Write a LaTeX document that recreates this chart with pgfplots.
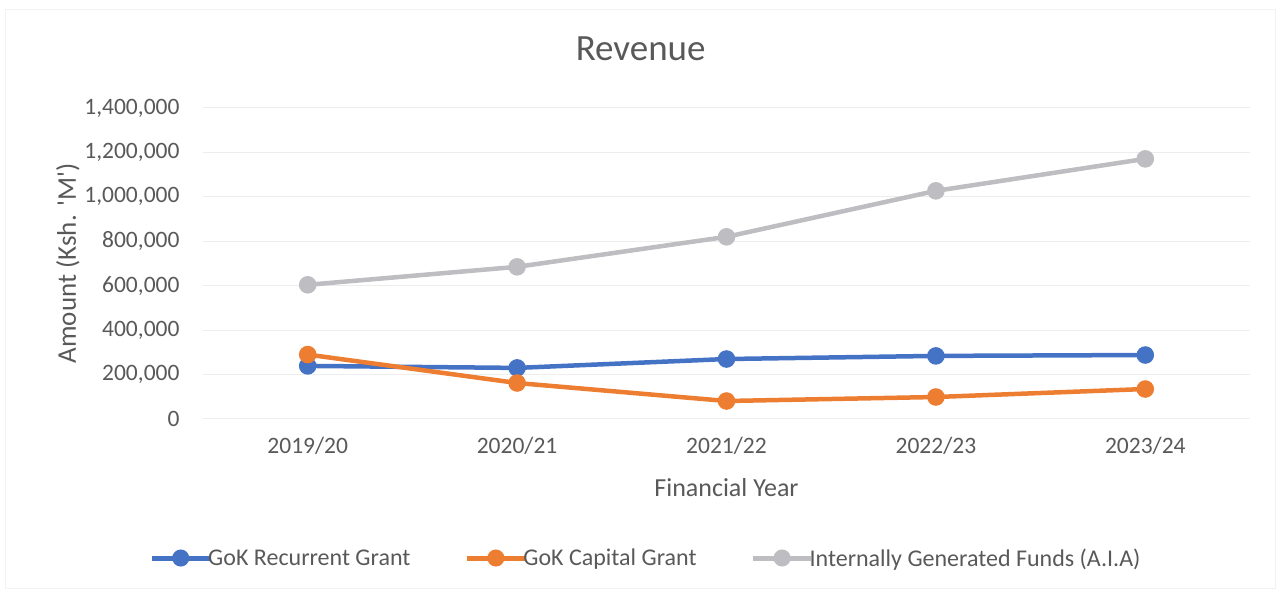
\documentclass[border=0pt]{standalone}
\usepackage{fontspec}
\setmainfont{Carlito}
\usepackage{pgfplots}
\pgfplotsset{compat=1.18}

\definecolor{recblue}{HTML}{4472C4}
\definecolor{caporange}{HTML}{ED7D31}
\definecolor{aiagray}{HTML}{BDBDC2}
\definecolor{txtgray}{HTML}{595959}
\definecolor{gridgray}{HTML}{EDEDED}

\begin{document}
\begin{tikzpicture}[x=1pt,y=1pt]
\begin{axis}[
  name=main,
  scale only axis,
  width=1047pt, height=311pt,
  xmin=-0.5, xmax=4.5,
  ymin=0, ymax=1400000,
  xtick={0,1,2,3,4},
  xticklabels={2019/20,2020/21,2021/22,2022/23,2023/24},
  ytick={0,200000,400000,600000,800000,1000000,1200000,1400000},
  scaled y ticks=false,
  /pgf/number format/.cd, fixed, 1000 sep={,}, assume math mode=true,
  /pgfplots/.cd,
  axis x line*=bottom, axis y line*=left,
  axis line style={draw=none},
  major tick length=0pt,
  ymajorgrids,
  grid style={gridgray, line width=1pt},
  tick label style={font=\fontsize{23.5}{27}\selectfont, text=txtgray},
  yticklabel style={xshift=-20pt},
  xticklabel style={yshift=-15pt},
  ylabel={Amount (Ksh. \textquotesingle M\textquotesingle)},
  ylabel style={font=\fontsize{27}{32}\selectfont, text=txtgray, at={(axis description cs:-0.129,0.5)}, anchor=center, rotate=0},
  xlabel={Financial Year},
  xlabel style={font=\fontsize{26}{31}\selectfont, text=txtgray, at={(axis description cs:0.5,-0.219)}, anchor=center},
  title={Revenue},
  title style={font=\fontsize{37}{42}\selectfont, text=txtgray, at={(axis description cs:0.418,1.172)}, anchor=center},
  clip=false,
  legend columns=3,
  legend style={at={(axis description cs:0.423,-0.447)}, anchor=center, draw=none, fill=none,
    font=\fontsize{24}{28}\selectfont, text=txtgray,
    /tikz/every even column/.append style={column sep=52pt},
    inner sep=0pt, cells={anchor=west}},
  legend image code/.code={%
    \draw[#1, line width=5pt, mark size=6pt, mark repeat=2, mark phase=2] plot coordinates {(0pt,0pt) (29pt,0pt) (58pt,0pt)};},
  every axis plot/.append style={line width=4.5pt, mark=*, mark size=6.5pt, mark options={solid}},
]
\addplot[color=recblue] coordinates {(0,239000) (1,230000) (2,270000) (3,284000) (4,288000)};
\addlegendentry{\hspace{-6pt}GoK Recurrent Grant}
\addplot[color=caporange] coordinates {(0,290000) (1,162000) (2,81000) (3,99000) (4,135000)};
\addlegendentry{\hspace{-6pt}GoK Capital Grant}
\addplot[color=aiagray] coordinates {(0,604000) (1,685000) (2,820000) (3,1027000) (4,1171000)};
\addlegendentry{\hspace{-6pt}Internally Generated Funds (A.I.A)}
\end{axis}
\draw[gray!10, line width=1pt] ([shift={(-197pt,-169pt)}]main.south west) rectangle ++(1269pt,578pt);
\path[use as bounding box] ([shift={(-203pt,-177pt)}]main.south west) rectangle ++(1281pt,596pt);
\end{tikzpicture}
\end{document}
